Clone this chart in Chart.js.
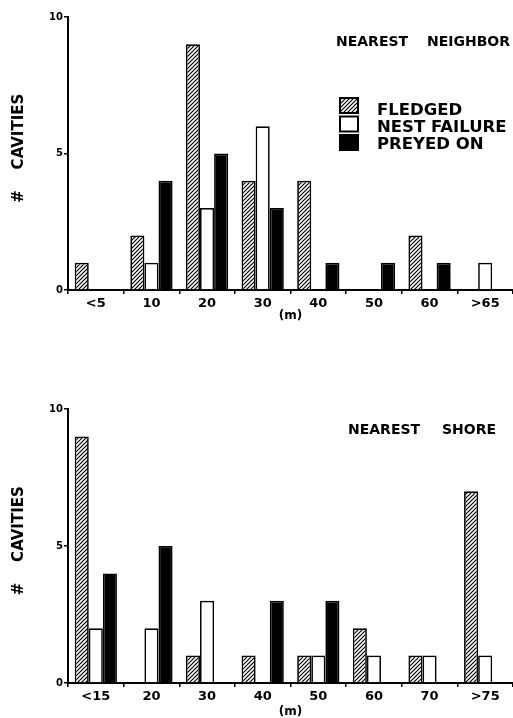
<!DOCTYPE html>
<html>
<head>
<meta charset="utf-8">
<script src="https://cdn.jsdelivr.net/npm/chart.js@4"></script>
<style>
body { margin: 0; background: #fff; width: 513px; height: 718px; position: relative; overflow: hidden; }
canvas { position: absolute; left: 0; }
#top { top: 0; }
#bottom { top: 380px; }
</style>
</head>
<body>
<canvas id="top" width="513" height="330"></canvas>
<canvas id="bottom" width="513" height="338"></canvas>
<script>
// nearest neighbor distance (m)
let neighborLabels = ['<5', '10', '20', '30', '40', '50', '60', '>65'];
let neighborFledged = [1, 2, 9, 4, 4, 0, 2, 0];
let neighborFailure = [0, 1, 3, 6, 0, 0, 0, 1];
let neighborPreyed = [0, 4, 5, 3, 1, 1, 1, 0];

// nearest shore distance (m)
let shoreLabels = ['<15', '20', '30', '40', '50', '60', '70', '>75'];
let shoreFledged = [9, 0, 1, 1, 1, 2, 1, 7];
let shoreFailure = [2, 2, 3, 0, 1, 1, 1, 1];
let shorePreyed = [4, 5, 0, 3, 3, 0, 0, 0];

let yTicks = [0, 5, 10];
let seriesNames = ['FLEDGED', 'NEST FAILURE', 'PREYED ON'];

Chart.defaults.font.family = '"DejaVu Sans", sans-serif';
Chart.defaults.font.weight = 'bold';
Chart.defaults.color = '#000';

// diagonal /// hatch for the fledged bars
function hatch(ctx) {
    let c = document.createElement('canvas');
    c.width = 4;
    c.height = 4;
    let g = c.getContext('2d');
    g.fillStyle = '#fff';
    g.fillRect(0, 0, 4, 4);
    g.strokeStyle = '#000';
    g.lineWidth = 1.2;
    g.beginPath();
    g.moveTo(0, 4); g.lineTo(4, 0);
    g.moveTo(-1, 1); g.lineTo(1, -1);
    g.moveTo(3, 5); g.lineTo(5, 3);
    g.stroke();
    return ctx.createPattern(c, 'repeat');
}

// panel heading + optional legend
function panelText(words, baseline, withLegend) {
    return {
        id: 'panelText',
        afterDraw(chart) {
            let ctx = chart.ctx;
            ctx.save();
            ctx.fillStyle = '#000';
            ctx.textBaseline = 'alphabetic';
            ctx.textAlign = 'left';
            ctx.font = 'bold 14px "DejaVu Sans"';
            words.forEach(w => ctx.fillText(w[0], w[1], baseline));
            if (withLegend) {
                ctx.font = 'bold 16.5px "DejaVu Sans"';
                chart.data.datasets.forEach((ds, i) => {
                    let y = 98 + i * 18.5;
                    ctx.fillStyle = ds.backgroundColor;
                    ctx.fillRect(340, y, 18, 15);
                    ctx.strokeStyle = '#000';
                    ctx.lineWidth = 2;
                    ctx.strokeRect(340, y, 18, 15);
                    ctx.fillStyle = '#000';
                    ctx.fillText(ds.label, 377, 115 + i * 17);
                });
            }
            ctx.restore();
        }
    };
}

function makeChart(id, labels, fledged, failure, preyed, topPad, xHeight, xTitlePad, extra) {
    let ctx = document.getElementById(id).getContext('2d');
    return new Chart(ctx, {
        type: 'bar',
        data: {
            labels: labels,
            datasets: [
                {label: seriesNames[0], data: fledged, backgroundColor: hatch(ctx)},
                {label: seriesNames[1], data: failure, backgroundColor: '#fff'},
                {label: seriesNames[2], data: preyed, backgroundColor: '#000'},
            ]
        },
        options: {
            responsive: false,
            animation: false,
            devicePixelRatio: 1,
            layout: {padding: {top: topPad, left: 0, right: 0, bottom: 0}},
            datasets: {bar: {categoryPercentage: 0.76, barPercentage: 1, borderColor: '#000', borderWidth: 1.7, inflateAmount: 0}},
            plugins: {legend: {display: false}, tooltip: {enabled: false}},
            scales: {
                x: {
                    grid: {drawOnChartArea: false, drawTicks: true, tickLength: 4, color: '#000', lineWidth: 1.5, offset: true},
                    border: {display: true, color: '#000', width: 2},
                    ticks: {color: '#000', font: {size: 13, weight: 'bold'}, padding: 2, maxRotation: 0, autoSkip: false},
                    title: {display: true, text: '(m)', color: '#000', font: {size: 12, weight: 'bold', lineHeight: 1}, padding: {top: 0, bottom: xTitlePad}},
                    afterFit(s) { s.height = xHeight; }
                },
                y: {
                    min: 0,
                    max: 10,
                    afterBuildTicks(s) { s.ticks = yTicks.map(v => ({value: v})); },
                    grid: {drawOnChartArea: false, tickLength: 4, color: '#000', lineWidth: 1.5},
                    border: {display: true, color: '#000', width: 2},
                    ticks: {color: '#000', font: {size: 10, weight: 'bold'}, padding: 1},
                    title: {display: true, text: '  #    CAVITIES', color: '#000', font: {size: 15, weight: 'bold', lineHeight: 1}, padding: {top: 12, bottom: 0}},
                    afterFit(s) { s.width = 68; }
                }
            }
        },
        plugins: [extra]
    });
}

makeChart('top', neighborLabels, neighborFledged, neighborFailure, neighborPreyed, 17, 40, 8,
    panelText([['NEAREST', 336], ['NEIGHBOR', 427]], 46, true));

makeChart('bottom', shoreLabels, shoreFledged, shoreFailure, shorePreyed, 29, 35, 0,
    panelText([['NEAREST', 348], ['SHORE', 442]], 54, false));
</script>
</body>
</html>
